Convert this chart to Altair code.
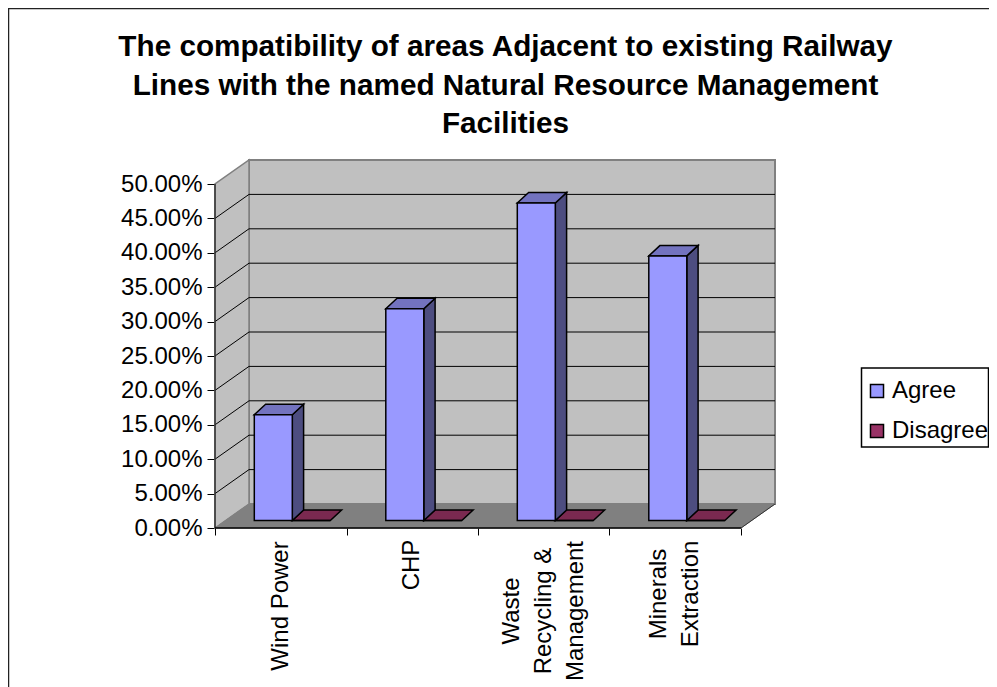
import altair as alt
import pandas as pd

categories = ["Wind Power", "CHP", "Waste Recycling & Management", "Minerals Extraction"]
label_lines = [["Wind Power"], ["CHP"], ["Waste", "Recycling &", "Management"], ["Minerals", "Extraction"]]
agree = [0.1538, 0.3077, 0.4615, 0.3846]
disagree = [0.0, 0.0, 0.0, 0.0]
series = ["Agree", "Disagree"]
y_ticks = [0.0, 0.05, 0.10, 0.15, 0.20, 0.25, 0.30, 0.35, 0.40, 0.45, 0.50]
title_lines = ["The compatibility of areas Adjacent to existing Railway",
               "Lines with the named Natural Resource Management",
               "Facilities"]

FONT = "Liberation Sans"
CAT_PX = 131.5
VAL_PX = 688.0
W, H = 561, 368
PAD = {"left": 207, "top": 152, "right": 213, "bottom": 159}
xu = lambda px: px / CAT_PX
yu = lambda px: px / VAL_PX
WALL_X, WALL_Y = xu(34), yu(24)
BAR_W = xu(38)
GAP = xu(28)
Z_X, Z_Y = xu(11.3), yu(7.5)
D_X, D_Y = xu(11.3), yu(10.5)
n = len(categories)

x_scale = alt.Scale(domain=[0, W / CAT_PX], range=[0, W], nice=False, zero=False)
y_scale = alt.Scale(domain=[0, H / VAL_PX], range=[H, 0], nice=False, zero=False)
X = alt.X("x:Q", scale=x_scale, title=None,
          axis=alt.Axis(values=list(range(n + 1)), labels=False, domain=False, grid=False,
                        tickColor="black", tickSize=7, tickWidth=1))
Y = alt.Y("y:Q", scale=y_scale, title=None,
          axis=alt.Axis(values=y_ticks, format=".2%", domain=False, grid=False, tickColor="black",
                        tickSize=8, tickWidth=1, labelFont=FONT, labelFontSize=24,
                        labelColor="black", labelPadding=5))
x_plain = X
y_plain = Y


def vert_para(x0, x1, yb0, yt0, yb1, yt1, fill, stroke, sw):
    """Parallelogram with vertical sides."""
    d = pd.DataFrame({"x": [x0, x1], "y": [yb0, yb1], "y2": [yt0, yt1]})
    return alt.Chart(d).mark_area(fill=fill, stroke=stroke, strokeWidth=sw, opacity=1, clip=False).encode(
        x=x_plain, y=y_plain, y2="y2:Q")


def horiz_para(y0, y1, xl0, xr0, xl1, xr1, fill, stroke, sw):
    """Parallelogram with horizontal sides."""
    d = pd.DataFrame({"y": [y0, y1], "x": [xl0, xl1], "x2": [xr0, xr1]})
    return alt.Chart(d).mark_area(orient="horizontal", fill=fill, stroke=stroke, strokeWidth=sw, opacity=1).encode(
        x=x_plain, x2="x2:Q", y=y_plain)


layers = []

# whole-picture border
layers.append(alt.Chart(pd.DataFrame({"a": [0]})).mark_rule(color="#222222", strokeWidth=1.5).encode(
    x=alt.value(-PAD["left"] + 0.5), y=alt.value(-PAD["top"] + 0.5), y2=alt.value(H + PAD["bottom"])))
layers.append(alt.Chart(pd.DataFrame({"a": [0]})).mark_rule(color="#222222", strokeWidth=1.5).encode(
    x=alt.value(-PAD["left"]), x2=alt.value(W + PAD["right"]), y=alt.value(-PAD["top"] + 0.5)))

top = 0.5
right = float(n)
# back wall
layers.append(alt.Chart(pd.DataFrame({"x": [WALL_X], "x2": [right + WALL_X], "y": [WALL_Y], "y2": [top + WALL_Y]}))
              .mark_rect(fill="#C0C0C0", stroke="#808080", strokeWidth=2)
              .encode(x=x_plain, x2="x2:Q", y=y_plain, y2="y2:Q"))
# side wall
layers.append(vert_para(0, WALL_X, 0, top, WALL_Y, top + WALL_Y, "#C0C0C0", "#808080", 1.5))
# floor
layers.append(horiz_para(0, WALL_Y, 0, right, WALL_X, right + WALL_X, "#808080", "#808080", 1))

# gridlines on both walls
grid_rows = []
for i, t in enumerate(y_ticks[1:-1]):
    grid_rows += [{"k": f"s{i}", "o": 0, "x": 0, "y": t},
                  {"k": f"s{i}", "o": 1, "x": WALL_X, "y": t + WALL_Y},
                  {"k": f"s{i}", "o": 2, "x": right + WALL_X, "y": t + WALL_Y}]
layers.append(alt.Chart(pd.DataFrame(grid_rows)).mark_line(color="black", strokeWidth=1).encode(
    x=x_plain, y=y_plain, detail="k:N", order="o:Q"))

# front axis lines
layers.append(alt.Chart(pd.DataFrame({"x": [0, 0], "y": [0, top]})).mark_line(color="#333333", strokeWidth=1.5)
              .encode(x=x_plain, y=y_plain))
layers.append(alt.Chart(pd.DataFrame({"x": [0, right], "y": [0, 0]})).mark_line(color="black", strokeWidth=1.5)
              .encode(x=x_plain, y=y_plain))
layers.append(alt.Chart(pd.DataFrame({"x": [right, right + WALL_X], "y": [0, WALL_Y]})).mark_line(color="#333333", strokeWidth=1)
              .encode(x=x_plain, y=y_plain))

# bars
faces = {"Agree": ("#4D4D80", "#7373BF"), "Disagree": ("#4D1A33", "#7A2950")}
front_rows = []
for s_i, (s, vals) in enumerate(zip(series, [agree, disagree])):
    side_c, top_c = faces[s]
    for c, v in enumerate(vals):
        x0 = c + GAP + Z_X + s_i * BAR_W
        x1 = x0 + BAR_W
        y0 = Z_Y
        y1 = Z_Y + v
        front_rows.append({"x": x0, "x2": x1, "y": y0, "y2": y1, "series": s})
        if s == "Disagree":
            layers.append(horiz_para(y1, y1 + D_Y, x0, x1, x0 + D_X, x1 + D_X, top_c, "black", 1.5))
for c, v in enumerate(agree):
    side_c, top_c = faces["Agree"]
    x0 = c + GAP + Z_X
    x1 = x0 + BAR_W
    y0 = Z_Y
    y1 = Z_Y + v
    layers.append(vert_para(x1, x1 + D_X, y0, y1, y0 + D_Y, y1 + D_Y, side_c, "black", 1.5))
    layers.append(horiz_para(y1, y1 + D_Y, x0, x1, x0 + D_X, x1 + D_X, top_c, "black", 1.5))

# legend frame
layers.append(alt.Chart(pd.DataFrame({"a": [0]})).mark_rect(fill="white", stroke="black", strokeWidth=1.5).encode(
    x=alt.value(861.5 - 215), x2=alt.value(988.5 - 215), y=alt.value(368 - 160), y2=alt.value(447 - 160)))

layers.append(alt.Chart(pd.DataFrame(front_rows)).mark_rect(stroke="black", strokeWidth=1.5).encode(
    x=x_plain, x2="x2:Q", y=y_plain, y2="y2:Q",
    color=alt.Color("series:N", scale=alt.Scale(domain=series, range=["#9999FF", "#993366"]),
                    legend=alt.Legend(title=None, orient="none", legendX=650, legendY=219,
                                      padding=0,
                                      symbolType="square", symbolSize=170, symbolStrokeColor="black",
                                      symbolStrokeWidth=1.5, symbolOpacity=1,
                                      labelFont=FONT, labelFontSize=24, labelColor="black",
                                      rowPadding=16, labelOffset=3, labelLimit=200, cornerRadius=0))))

# category labels, centred on block
label_centres = [606, 565, 611, 594]
for c, (lines, py) in enumerate(zip(label_lines, label_centres)):
    layers.append(alt.Chart(pd.DataFrame({"x": [c + 0.5]})).mark_text(
        text=lines, angle=270, align="center", baseline="middle", font=FONT, fontSize=24,
        dy=-(len(lines) - 1) * 16, lineHeight=32, color="black").encode(x=x_plain, y=alt.value(py - 160)))

chart = alt.layer(*layers).properties(
    width=W, height=H, padding=PAD, autosize=alt.AutoSizeParams(type="none"), background="white",
    title=alt.TitleParams(text=title_lines, font=FONT, fontSize=29.7, fontWeight="bold", color="black",
                          anchor="middle", frame="group", dx=10, offset=0, dy=155, lineHeight=38.5,
                          baseline="alphabetic"),
).configure_view(stroke=None)

chart.save("out.html", embed_options={"renderer": "svg", "actions": False})
